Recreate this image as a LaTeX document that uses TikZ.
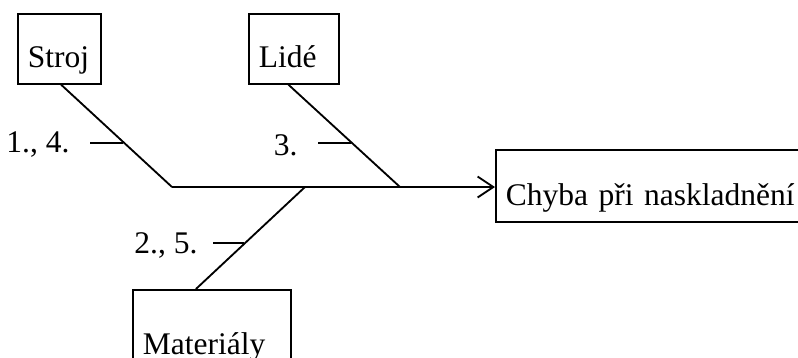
\documentclass[tikz,border=0pt]{standalone}
\usepackage{fontspec}
\setmainfont{Liberation Serif}
\usepackage{tikz}
\usetikzlibrary{positioning,calc,arrows.meta}

\begin{document}
\begin{tikzpicture}[x=0.381pt,y=-0.381pt, font=\fontsize{12pt}{14pt}\selectfont, line cap=butt, line join=miter]
				% ===== okraje obrázku =====
				\clip (0,0) rectangle (798,357);
				
				% ===== style =====
				\tikzset{
					pricina/.style={draw, line width=0.7pt, anchor=north west, align=left, inner xsep=3.8pt, inner ysep=1.5pt, text depth=4.6pt},
					kost/.style={line width=0.7pt},
					znacka/.style={line width=0.7pt},
					cislo/.style={anchor=east, inner sep=0pt}
				}
				
				% ===== boxy příčin a následku =====
				\node[pricina, text width=24pt, text height=19pt] (stroj) at (17,13) {Stroj};
				\node[pricina, text width=26.7pt, text height=19pt] (lide) at (248,13) {Lidé};
				\node[pricina, text width=52.6pt, text height=23.2pt] (mat) at (132,289) {Materiály};
				\node[pricina, text width=114pt, text height=19.8pt] (chyba) at (495,149) {Chyba při naskladnění};
				
				% ===== páteř =====
				\coordinate (ocas) at (172,187);
				\coordinate (lidepata) at (400,187);
				\coordinate (matpata) at (305,187);
				\draw[kost, -{Straight Barb[length=6pt,width=8pt,line width=0.7pt]}] (ocas) -- (chyba.west |- ocas);
				
				% ===== kosti =====
				\draw[kost] ($(stroj.south west)!0.52!(stroj.south east)$) -- (ocas);
				\draw[kost] ($(lide.south west)!0.44!(lide.south east)$) -- (lidepata);
				\draw[kost] (matpata) -- ($(mat.north west)!0.4!(mat.north east)$);
				
				% ===== čárky s čísly =====
				\coordinate (z1) at (90,143);
				\coordinate (z2) at (318,143);
				\coordinate (z3) at (213,243);
				\draw[znacka] (z1) -- (123,143);
				\draw[znacka] (z2) -- (351,143);
				\draw[znacka] (z3) -- (244,243);
				\node[cislo] (c1) at ($(z1)+(-20,2)$) {1., 4.};
				\node[cislo] (c2) at ($(z2)+(-20,2)$) {3.};
				\node[cislo] (c3) at ($(z3)+(-15,2)$) {2., 5.};
			\end{tikzpicture}
\end{document}
